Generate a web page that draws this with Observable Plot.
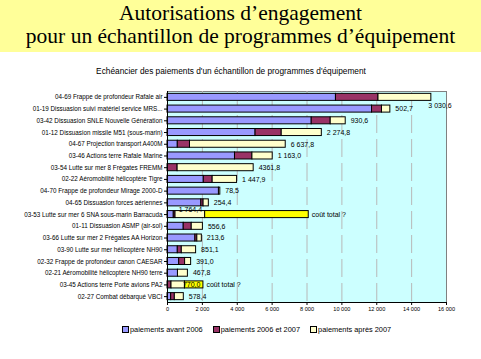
<!DOCTYPE html>
<html>
<head>
<meta charset="utf-8">
<script src="https://cdn.jsdelivr.net/npm/d3@7"></script>
<script src="https://cdn.jsdelivr.net/npm/@observablehq/plot@0.6"></script>
<style>
  body { margin: 0; background: #fff; }
  #wrap { position: relative; width: 481px; height: 359px; overflow: hidden; }
  #title { position: absolute; left: 0; top: 0; width: 481px; height: 52px; background: #FFFF99;
           font-family: "Liberation Serif", serif; font-size: 21.5px; line-height: 23px; text-align: center;
           padding-top: 2px; box-sizing: border-box; color: #000; }
  #subtitle { position: absolute; left: 0; top: 66px; width: 462px; text-align: center;
              font-family: "Liberation Sans", Arial, sans-serif; font-size: 8.3px; color: #000; }
  #chart { position: absolute; left: 0; top: 52px; }
  #chart svg { display: block; }
  #legend { position: absolute; left: 122px; top: 325px; font-family: "Liberation Sans", Arial, sans-serif;
            font-size: 7.4px; color: #000; display: flex; gap: 0; }
  .item { display: flex; align-items: center; }
  .sw { width: 5px; height: 5px; border: 1px solid #000; margin-right: 1px; }
</style>
</head>
<body>
<div id="wrap">
  <div id="title">Autorisations d’engagement<br>pour un échantillon de programmes d’équipement</div>
  <div id="subtitle">Echéancier des paiements d'un échantillon de programmes d'équipement</div>
  <div id="chart"></div>
  <div id="legend"></div>
</div>
<script>
const categories = [
  "04-69 Frappe de profondeur Rafale air",
  "01-19 Dissuasion suivi matériel service MRS...",
  "03-42 Dissuasion SNLE Nouvelle Génération",
  "01-12 Dissuasion missile M51 (sous-marin)",
  "04-67 Projection transport A400M",
  "03-46 Actions terre Rafale Marine",
  "03-54 Lutte sur mer 8 Frégates FREMM",
  "02-22 Aéromobilité hélicoptère Tigre",
  "04-70 Frappe de profondeur Mirage 2000-D",
  "04-65 Dissuasion forces aériennes",
  "03-53 Lutte sur mer 6 SNA sous-marin Barracuda",
  "01-11 Dissuasion ASMP (air-sol)",
  "03-66 Lutte sur mer 2 Frégates AA Horizon",
  "03-90 Lutte sur mer hélicoptère NH90",
  "02-32 Frappe de profondeur canon CAESAR",
  "02-21 Aéromobilité hélicoptère NH90 terre",
  "03-45 Actions terre Porte avions PA2",
  "02-27 Combat débarqué VBCI"
];
const avant2006   = [9660, 11730, 8270, 5050, 590, 3870, 0, 2080, 2950, 1940, 360, 930, 1600, 590, 670, 600, 0, 210];
const entre0607   = [2440, 570, 1090, 1500, 700, 1000, 580, 510, 0, 130, 100, 460, 110, 230, 340, 0, 230, 210];
const apres2007   = [3030.6, 480, 860, 2300, 5490, 1163.0, 4361.8, 1400, 78.5, 300, 1700, 640, 260, 820, 345, 570, 770.0, 515];
const coutTotalInconnu = [0, 0, 0, 0, 0, 0, 0, 0, 0, 0, 5940, 0, 0, 0, 0, 0, 1060, 0];
const valueLabels = ["3 030,6", "502,7", "930,6", "2 274,8", "6 637,8", "1 163,0", "4361,8", "1 447,9", "78,5",
  "254,4", "1 764,4", "556,6", "213,6", "851,1", "391,0", "467,8", "770,0", "578,4"];
const seriesNames = ["paiements avant 2006", "paiements 2006 et 2007", "paiements après 2007", "coût total ?"];
const seriesColors = ["#9999FF", "#993366", "#FFFFCC", "#FFFF00"];
const xTicks = [0, 2000, 4000, 6000, 8000, 10000, 12000, 14000, 16000];

const seriesValues = [avant2006, entre0607, apres2007, coutTotalInconnu];
const rows = [];
categories.forEach((c, i) => {
  seriesValues.forEach((arr, s) => {
    if (arr[i] > 0) rows.push({cat: c, serie: seriesNames[s], value: arr[i]});
  });
});

const fr = d3.formatLocale({decimal: ",", thousands: " ", grouping: [3], currency: ["", ""]});
const fmt = fr.format(",d");

const normalLabels = [], aboveLabels = [], overLabels = [], totalLabels = [];
categories.forEach((c, i) => {
  const known = avant2006[i] + entre0607[i] + apres2007[i];
  if (coutTotalInconnu[i] > 0) {
    if (i < 12) aboveLabels.push({cat: c, x: avant2006[i] + entre0607[i] + apres2007[i] / 2, text: valueLabels[i]});
    else overLabels.push({cat: c, x: known, text: valueLabels[i]});
    totalLabels.push({cat: c, x: known + coutTotalInconnu[i], text: "coût total ?"});
  } else {
    normalLabels.push({cat: c, x: known, text: valueLabels[i], below: known > 14500});
  }
});

const font = "Liberation Sans, Arial, sans-serif";
const chart = Plot.plot({
  width: 481,
  height: 307,
  marginLeft: 167,
  marginRight: 35,
  marginTop: 39,
  marginBottom: 57,
  style: {fontFamily: font, background: "transparent", color: "#000"},
  x: {domain: [0, 16000], axis: null},
  y: {domain: categories, paddingInner: 0.4, paddingOuter: 0.2, round: false, axis: null},
  color: {domain: seriesNames, range: seriesColors},
  marks: [
    Plot.frame({fill: "#CCFFFF", stroke: "#808080"}),
    Plot.gridX(xTicks.slice(1, -1), {stroke: "#b8b8b8", strokeOpacity: 1, strokeDasharray: "18,6"}),
    Plot.barX(rows, Plot.stackX({x: "value", y: "cat", fill: "serie", stroke: "#000", strokeWidth: 1})),
    Plot.axisY({tickSize: 3, tickPadding: 2, fontSize: 6.3, label: null}),
    Plot.axisX(xTicks, {tickSize: 3, tickPadding: 2, fontSize: 5.6, label: null, tickFormat: fmt}),
    Plot.ruleX([0], {stroke: "#000", strokeWidth: 1}),
    Plot.frame({anchor: "bottom", stroke: "#000"}),
    Plot.text(normalLabels.filter(d => !d.below), {x: "x", y: "cat", text: "text", dx: 5, textAnchor: "start", fontSize: 7}),
    Plot.text(normalLabels.filter(d => d.below), {x: "x", y: "cat", text: "text", dx: -3, dy: 8, textAnchor: "start", fontSize: 7}),
    Plot.text(aboveLabels, {x: "x", y: "cat", text: "text", dy: -5, textAnchor: "middle", fontSize: 7}),
    Plot.text(overLabels, {x: "x", y: "cat", text: "text", dx: -2, textAnchor: "start", fontSize: 7}),
    Plot.text(totalLabels, {x: "x", y: "cat", text: "text", dx: 3, textAnchor: "start", fontSize: 7})
  ]
});
document.getElementById("chart").appendChild(chart);

const legend = document.getElementById("legend");
seriesNames.slice(0, 3).forEach((n, i) => {
  const it = document.createElement("div");
  it.className = "item";
  it.style.marginRight = "10px";
  it.innerHTML = `<span class="sw" style="background:${seriesColors[i]}"></span><span>${n}</span>`;
  legend.appendChild(it);
});
</script>
</body>
</html>
